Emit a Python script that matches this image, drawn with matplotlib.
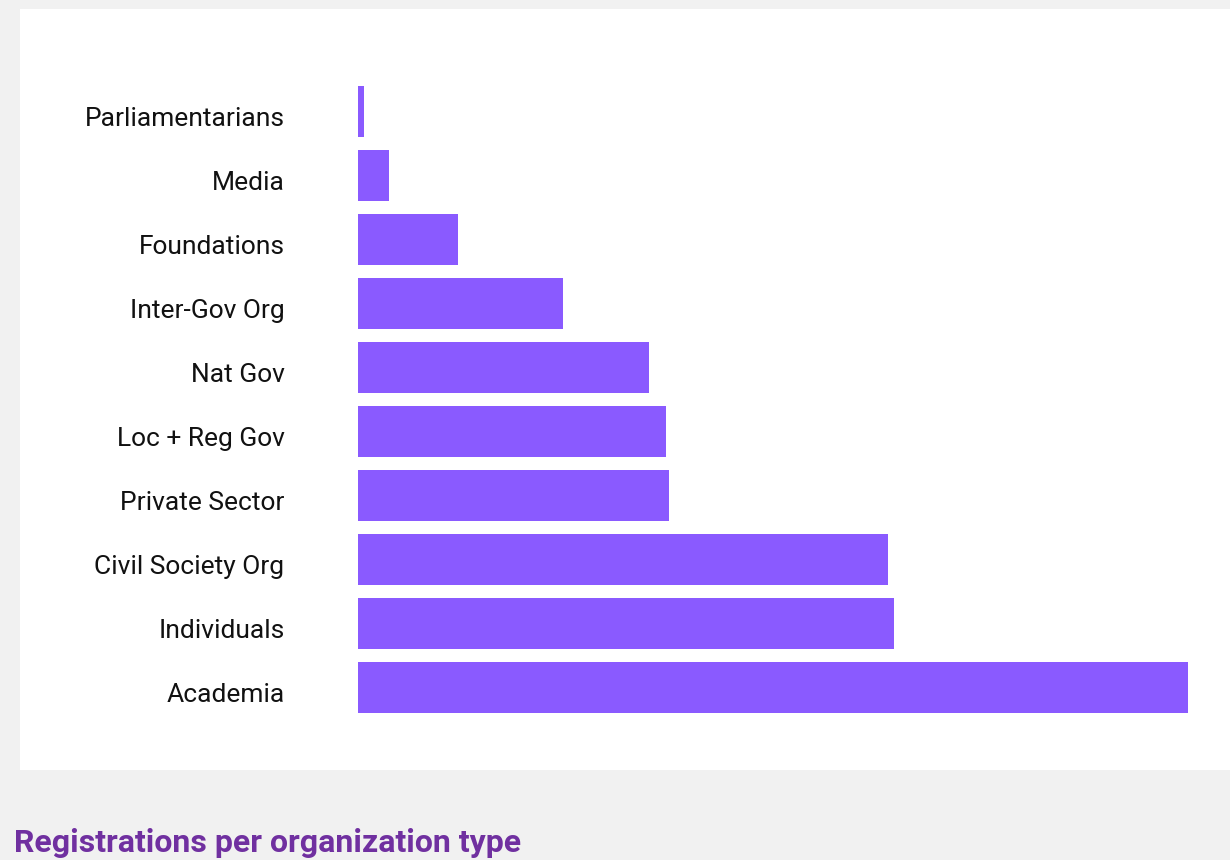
import matplotlib.pyplot as plt
import matplotlib.transforms as mtransforms
from matplotlib.patches import Rectangle

# registrations by organization type
categories = ['Academia', 'Individuals', 'Civil Society Org', 'Private Sector',
              'Loc + Reg Gov', 'Nat Gov', 'Inter-Gov Org', 'Foundations',
              'Media', 'Parliamentarians']
registrations = [830, 536, 530, 311, 308, 291, 205, 100, 31, 6]

bar_color = '#8a5aff'
title_color = '#7030a0'

plt.rcParams['font.family'] = ['Roboto', 'DejaVu Sans']

fig = plt.figure(figsize=(12.3, 8.6), dpi=100)
fig.patch.set_facecolor('#f1f1f1')

# white card behind the chart
fig.patches.append(Rectangle((20 / 1230, 1 - 770 / 860), 1.0, (770 - 9) / 860,
                             transform=fig.transFigure, facecolor='white',
                             edgecolor='none', zorder=-1))

ax = fig.add_axes([358 / 1230, 1 - 713 / 860, (1188 - 358) / 1230, (713 - 86) / 860])
ax.set_zorder(2)
ax.set_facecolor('none')
ax.barh(range(len(categories)), registrations, height=0.8, color=bar_color)
ax.set_xlim(0, max(registrations))
ax.set_ylim(-0.4, len(categories) - 0.6)
ax.set_yticks(range(len(categories)))
ax.set_yticklabels(categories, fontsize=19, color='#111111')
ax.tick_params(axis='y', length=0, pad=53)
ax.set_xticks([])
for s in ax.spines.values():
    s.set_visible(False)

# labels sit a few px below the bar centres in the original
shift = mtransforms.ScaledTranslation(0, -5 / 100, fig.dpi_scale_trans)
for lab in ax.get_yticklabels():
    lab.set_transform(lab.get_transform() + shift)

fig.text(14 / 1230, 1 - 852 / 860, 'Registrations per organization type',
         fontsize=23, fontweight='bold', color=title_color, ha='left', va='baseline')

fig.savefig('out.png', dpi=100, facecolor=fig.get_facecolor())
